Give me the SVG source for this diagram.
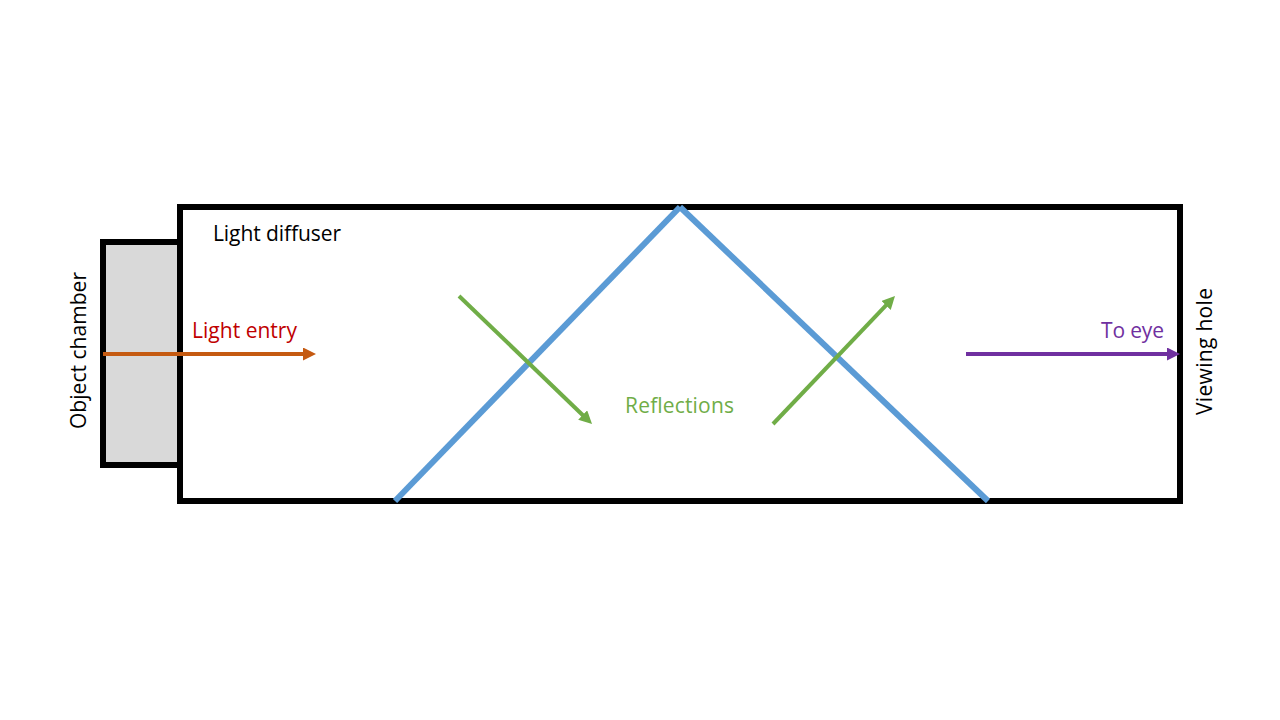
<svg xmlns="http://www.w3.org/2000/svg" width="1280" height="720" viewBox="0 0 1280 720">
<style>
text{font-family:"Open Sans","Noto Sans",sans-serif;font-size:21px}
.box{stroke:#000;stroke-width:6;fill:none}
.mirror{stroke:#5b9bd5;stroke-width:6;fill:none}
.green{stroke:#70ad47;stroke-width:4;fill:none;marker-end:url(#g)}
</style>
<defs>
<marker id="g" markerUnits="userSpaceOnUse" markerWidth="14" markerHeight="14" refX="1" refY="6.5" orient="auto"><path d="M0 0L13 6.5L0 13Z" fill="#70ad47"/></marker>
<marker id="o" markerUnits="userSpaceOnUse" markerWidth="14" markerHeight="14" refX="1" refY="6.5" orient="auto"><path d="M0 0L13 6.5L0 13Z" fill="#c55a11"/></marker>
<marker id="p" markerUnits="userSpaceOnUse" markerWidth="14" markerHeight="14" refX="1" refY="6.5" orient="auto"><path d="M0 0L13 6.5L0 13Z" fill="#7030a0"/></marker>
</defs>
<rect width="1280" height="720" fill="#fff"/>
<g id="object-chamber"><rect class="box" x="103" y="242" width="77" height="223" style="fill:#d9d9d9"/></g>
<g id="light-diffuser"><rect class="box" x="180" y="207" width="1000" height="294"/></g>
<g id="mirrors"><line class="mirror" x1="395" y1="501" x2="680" y2="207"/><line class="mirror" x1="680" y1="207" x2="988" y2="501"/></g>
<g id="connectors">
<line x1="103" y1="354" x2="304" y2="354" stroke="#c55a11" stroke-width="4" marker-end="url(#o)"/>
<line x1="966" y1="354" x2="1168" y2="354" stroke="#7030a0" stroke-width="4" marker-end="url(#p)"/>
<line class="green" x1="459" y1="296" x2="583.4" y2="415.7"/>
<line class="green" x1="773" y1="424" x2="886.7" y2="304.7"/>
</g>
<g id="labels">
<text x="213" y="241" textLength="128">Light diffuser</text>
<text x="192" y="338" textLength="105" fill="#c00000">Light entry</text>
<text x="1101" y="338" textLength="63" fill="#7030a0">To eye</text>
<text x="625" y="413" textLength="109" fill="#70ad47">Reflections</text>
<text transform="translate(86 429) rotate(-90)" textLength="157">Object chamber</text>
<text transform="translate(1212 415) rotate(-90)" textLength="127">Viewing hole</text>
</g>
</svg>
